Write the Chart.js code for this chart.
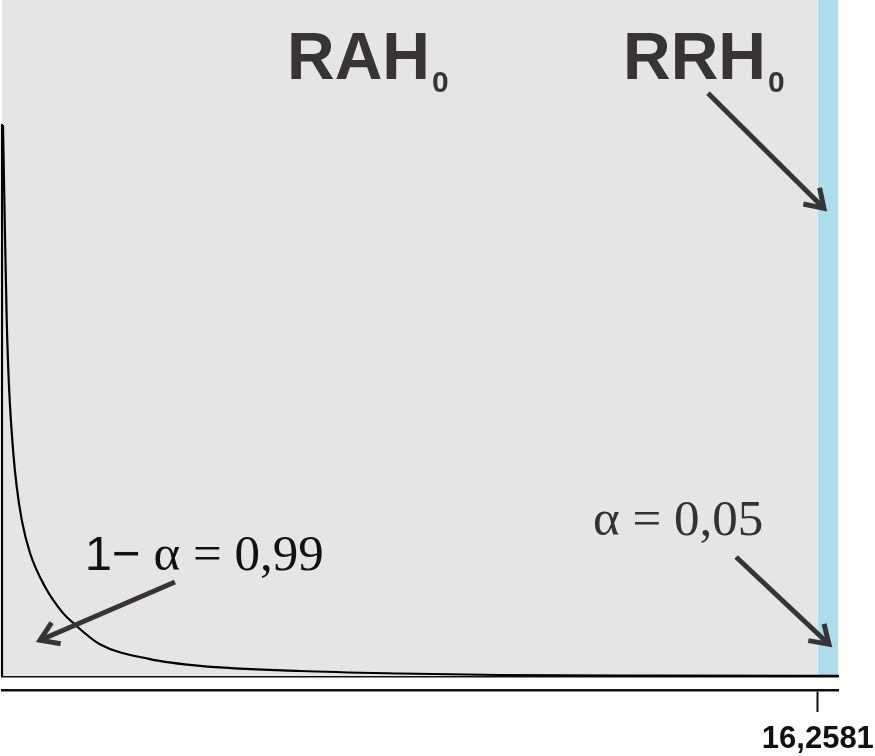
<!DOCTYPE html>
<html>
<head>
<meta charset="utf-8">
<script src="https://cdn.jsdelivr.net/npm/chart.js@4.4.1/dist/chart.umd.min.js"></script>
<style>
html, body { margin: 0; padding: 0; background: #fff; }
#grafico { display: block; }
</style>
</head>
<body>
<canvas id="grafico" width="875" height="756"></canvas>
<script>
// Datos de la curva
const curvaX = [0.02, 0.054, 0.094, 0.14, 0.225, 0.293, 0.393, 0.558, 0.857, 1.216, 1.395, 1.95, 2.95, 3.95, 5.94, 7.93, 9.92, 12.9, 16.66];
const curvaY = [0.815, 0.675, 0.527, 0.428, 0.330, 0.280, 0.231, 0.182, 0.132, 0.093, 0.080, 0.047, 0.025, 0.015, 0.0074, 0.0037, 0.0015, 0.0006, 0.0002];
// Borde vertical izquierdo de la curva
const bordeX = [0, 0, 0.02];
const bordeY = [0, 0.815, 0.815];
// Valor crítico y límites
const valorCritico = 16.2581;
const xMax = 16.66;
const yMax = 1;
const etiquetasX = ['16,2581'];
// Regiones
const regionAceptacion = [0, valorCritico];
const regionRechazo = [valorCritico, xMax];
// Textos y flechas (en unidades de los ejes)
const titulos = [
    { texto: 'RAH', sub: '0', x: 5.68, y: 0.883 },
    { texto: 'RRH', sub: '0', x: 12.375, y: 0.883 }
];
const flechas = [
    { x1: 3.447, y1: 0.139, x2: 0.757, y2: 0.053 },
    { x1: 14.07, y1: 0.862, x2: 16.38, y2: 0.692 },
    { x1: 14.63, y1: 0.176, x2: 16.48, y2: 0.047 }
];

const puntos = (xs, ys) => xs.map((v, i) => ({ x: v, y: ys[i] }));

const anotaciones = {
    id: 'anotaciones',
    afterDatasetsDraw(chart) {
        const { ctx, scales: { x, y } } = chart;
        ctx.save();
        ctx.textBaseline = 'alphabetic';
        ctx.textAlign = 'left';

        //Títulos RAH0 y RRH0
        titulos.forEach(t => {
            const px = x.getPixelForValue(t.x);
            const py = y.getPixelForValue(t.y);
            ctx.fillStyle = '#363435';
            ctx.font = 'bold 66px "Liberation Sans", Arial, sans-serif';
            ctx.fillText(t.texto, px, py);
            const ancho = ctx.measureText(t.texto).width;
            ctx.font = 'bold 30px "Liberation Sans", Arial, sans-serif';
            ctx.fillText(t.sub, px + ancho + 2, py + 13);
        });

        //1 − α = 0,99
        let px = x.getPixelForValue(1.65);
        let py = y.getPixelForValue(0.157);
        ctx.fillStyle = '#111';
        ctx.font = '49px "Liberation Sans", Arial, sans-serif';
        ctx.fillText('1−', px, py);
        px += ctx.measureText('1−').width;
        ctx.font = '51px "Liberation Serif", "Times New Roman", serif';
        ctx.fillText(' α = 0,99', px, py);

        //α = 0,05
        ctx.fillStyle = '#333';
        ctx.fillText('α = 0,05', x.getPixelForValue(11.78), y.getPixelForValue(0.209));

        //Flechas
        ctx.strokeStyle = '#363435';
        ctx.lineWidth = 5;
        ctx.lineCap = 'butt';
        ctx.lineJoin = 'miter';
        flechas.forEach(f => {
            const ax = x.getPixelForValue(f.x1), ay = y.getPixelForValue(f.y1);
            const bx = x.getPixelForValue(f.x2), by = y.getPixelForValue(f.y2);
            const ang = Math.atan2(ay - by, ax - bx);
            const largo = 21, abre = 0.58;
            ctx.beginPath();
            ctx.moveTo(ax, ay);
            ctx.lineTo(bx, by);
            ctx.stroke();
            ctx.beginPath();
            ctx.moveTo(bx + largo * Math.cos(ang - abre), by + largo * Math.sin(ang - abre));
            ctx.lineTo(bx, by);
            ctx.lineTo(bx + largo * Math.cos(ang + abre), by + largo * Math.sin(ang + abre));
            ctx.stroke();
        });
        ctx.restore();
    }
};

const ctx = document.querySelector('#grafico').getContext('2d');
const myChart = new Chart(ctx, {
    type: 'line',
    data: {
        datasets: [
            {
                data: puntos(curvaX, curvaY),
                borderColor: '#000',
                borderWidth: 2.2,
                pointRadius: 0,
                cubicInterpolationMode: 'monotone',
                clip: false,
                order: 0
            },
            {
                data: puntos(bordeX, bordeY),
                borderColor: '#000',
                borderWidth: 2.2,
                pointRadius: 0,
                tension: 0,
                clip: false,
                order: 0
            },
            {
                data: puntos(regionAceptacion, [yMax, yMax]),
                borderWidth: 0,
                pointRadius: 0,
                backgroundColor: '#e5e5e5',
                fill: 'origin',
                order: 2
            },
            {
                data: puntos(regionRechazo, [yMax, yMax]),
                borderWidth: 0,
                pointRadius: 0,
                backgroundColor: '#addcea',
                fill: 'origin',
                order: 2
            }
        ]
    },
    options: {
        responsive: false,
        animation: false,
        devicePixelRatio: 1,
        layout: { padding: { left: 2, right: 37, top: 0, bottom: 0 } },
        plugins: { legend: { display: false }, tooltip: { enabled: false } },
        scales: {
            x: {
                type: 'linear',
                position: 'bottom',
                weight: 0,
                min: 0,
                max: xMax,
                afterFit: axis => { axis.height = 14; },
                ticks: { display: false },
                grid: { drawOnChartArea: false, drawTicks: true, tickLength: 14, tickColor: 'transparent' },
                border: { display: true, color: '#111', width: 2.5 }
            },
            x2: {
                type: 'linear',
                position: 'bottom',
                weight: 1,
                min: 0,
                max: xMax,
                afterBuildTicks: axis => { axis.ticks = [{ value: valorCritico }]; },
                afterFit: axis => { axis.paddingLeft = 0; axis.paddingRight = 0; axis.height = 66; },
                ticks: {
                    padding: 14,
                    maxRotation: 0,
                    color: '#111',
                    font: { family: '"Liberation Sans", Arial, sans-serif', size: 31, weight: 'bold', lineHeight: 0.88 },
                    callback: () => etiquetasX[0]
                },
                grid: { drawOnChartArea: false, drawTicks: true, tickLength: 22, tickWidth: 2, tickColor: '#111' },
                border: { display: true, color: '#111', width: 2.5 }
            },
            y: {
                display: false,
                min: 0,
                max: yMax
            }
        }
    },
    plugins: [anotaciones]
});
</script>
</body>
</html>
